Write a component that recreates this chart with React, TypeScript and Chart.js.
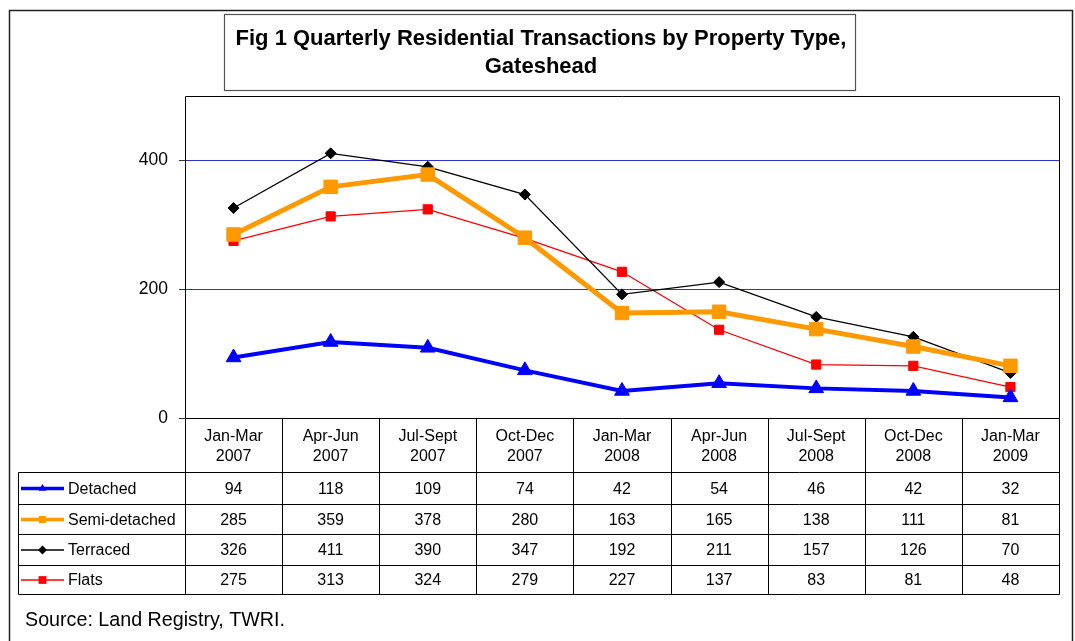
import React, { useEffect, useRef } from "react";
import { Chart, registerables } from "chart.js";

Chart.register(...registerables);

const categories: string[][] = [
  ["Jan-Mar", "2007"],
  ["Apr-Jun", "2007"],
  ["Jul-Sept", "2007"],
  ["Oct-Dec", "2007"],
  ["Jan-Mar", "2008"],
  ["Apr-Jun", "2008"],
  ["Jul-Sept", "2008"],
  ["Oct-Dec", "2008"],
  ["Jan-Mar", "2009"],
];

const detached = [94, 118, 109, 74, 42, 54, 46, 42, 32];
const semiDetached = [285, 359, 378, 280, 163, 165, 138, 111, 81];
const terraced = [326, 411, 390, 347, 192, 211, 157, 126, 70];
const flats = [275, 313, 324, 279, 227, 137, 83, 81, 48];

const yTicks = [0, 200, 400];
const yMax = 500;

const titleLines = [
  "Fig 1 Quarterly Residential Transactions by Property Type,",
  "Gateshead",
];
const sourceText = "Source: Land Registry, TWRI.";

const FONT = "'Liberation Sans', Arial, sans-serif";

type SeriesDef = {
  label: string;
  data: number[];
  color: string;
  lineWidth: number;
  pointStyle: string;
  radius: number;
  keyRadius: number;
};

const series: SeriesDef[] = [
  { label: "Detached", data: detached, color: "#0000FF", lineWidth: 4, pointStyle: "triangle", radius: 8.5, keyRadius: 4.5 },
  { label: "Semi-detached", data: semiDetached, color: "#FF9900", lineWidth: 5, pointStyle: "rect", radius: 9.5, keyRadius: 5 },
  { label: "Terraced", data: terraced, color: "#000000", lineWidth: 1.3, pointStyle: "rectRot", radius: 5.5, keyRadius: 4.5 },
  { label: "Flats", data: flats, color: "#FF0000", lineWidth: 1.3, pointStyle: "rect", radius: 6.5, keyRadius: 5.5 },
];

function drawMarker(ctx: CanvasRenderingContext2D, style: string, x: number, y: number, r: number) {
  ctx.beginPath();
  if (style === "triangle") {
    ctx.moveTo(x, y - r);
    ctx.lineTo(x + r * 0.866, y + r * 0.5);
    ctx.lineTo(x - r * 0.866, y + r * 0.5);
  } else if (style === "rectRot") {
    ctx.moveTo(x, y - r);
    ctx.lineTo(x + r, y);
    ctx.lineTo(x, y + r);
    ctx.lineTo(x - r, y);
  } else {
    const h = r * Math.SQRT1_2;
    ctx.rect(x - h, y - h, 2 * h, 2 * h);
  }
  ctx.closePath();
  ctx.fill();
}

const framePlugin = {
  id: "framePlugin",
  beforeDraw(chart: any) {
    const ctx = chart.ctx;
    ctx.save();
    ctx.fillStyle = "#ffffff";
    ctx.fillRect(0, 0, chart.width, chart.height);
    ctx.restore();
  },
  afterDraw(chart: any) {
    const ctx = chart.ctx;
    const area = chart.chartArea;
    const xs = chart.scales.x;
    const n = categories.length;
    const colW = (area.right - area.left) / n;
    ctx.save();

    // outer frame
    ctx.strokeStyle = "#222222";
    ctx.lineWidth = 1.5;
    ctx.strokeRect(9.5, 10.5, 1063, 640);

    // title box
    ctx.strokeStyle = "#555555";
    ctx.lineWidth = 1.2;
    ctx.strokeRect(224.5, 14.5, 631, 76);
    ctx.fillStyle = "#000000";
    ctx.font = `bold 22px ${FONT}`;
    ctx.textAlign = "center";
    ctx.textBaseline = "middle";
    const tcx = 224.5 + 631 / 2 + 1;
    ctx.fillText(titleLines[0], tcx, 39);
    ctx.fillText(titleLines[1], tcx, 67);

    // plot border
    ctx.strokeStyle = "#000000";
    ctx.lineWidth = 1;
    const L = Math.round(area.left) + 0.5;
    const R = Math.round(area.right) + 0.5;
    const T = Math.round(area.top) + 0.5;
    const B = Math.round(area.bottom) + 0.5;
    ctx.beginPath();
    ctx.moveTo(L, T);
    ctx.lineTo(R, T);
    ctx.lineTo(R, B);
    ctx.lineTo(L, B);
    ctx.closePath();
    ctx.stroke();

    // table geometry
    const rowYs = [472.5, 504.5, 534.5, 565.5, 594.5];
    const tableLeft = 18.5;

    ctx.beginPath();
    for (let i = 0; i <= n; i++) {
      const x = Math.round(area.left + i * colW) + 0.5;
      ctx.moveTo(x, B);
      ctx.lineTo(x, rowYs[rowYs.length - 1]);
    }
    ctx.moveTo(tableLeft, rowYs[0]);
    ctx.lineTo(tableLeft, rowYs[rowYs.length - 1]);
    for (const y of rowYs) {
      ctx.moveTo(tableLeft, y);
      ctx.lineTo(R, y);
    }
    ctx.stroke();

    // header labels
    ctx.fillStyle = "#000000";
    ctx.font = `16px ${FONT}`;
    ctx.textAlign = "center";
    ctx.textBaseline = "middle";
    categories.forEach((c, i) => {
      const cx = xs.getPixelForValue(i);
      ctx.fillText(c[0], cx, 437);
      ctx.fillText(c[1], cx, 457);
    });

    // rows
    series.forEach((s, r) => {
      const cy = (rowYs[r] + rowYs[r + 1]) / 2 + 1;
      ctx.fillStyle = "#000000";
      ctx.textAlign = "center";
      s.data.forEach((v, i) => {
        ctx.fillText(String(v), xs.getPixelForValue(i), cy);
      });
      // legend key
      ctx.save();
      ctx.strokeStyle = s.color;
      ctx.fillStyle = s.color;
      ctx.lineWidth = s.lineWidth > 2 ? 3.5 : 1.3;
      ctx.beginPath();
      ctx.moveTo(21, cy - 1);
      ctx.lineTo(64, cy - 1);
      ctx.stroke();
      drawMarker(ctx, s.pointStyle, 42.5, cy - 1, s.keyRadius);
      ctx.restore();
      ctx.fillStyle = "#000000";
      ctx.textAlign = "left";
      ctx.fillText(s.label, 68, cy);
    });

    // source
    ctx.textAlign = "left";
    ctx.font = `19.7px ${FONT}`;
    ctx.fillText(sourceText, 25, 621);

    ctx.restore();
  },
};

export default function App() {
  const ref = useRef<HTMLCanvasElement | null>(null);

  useEffect(() => {
    document.body.style.margin = "0";
    const canvas = ref.current;
    if (!canvas) return;
    const chart = new Chart(canvas, {
      type: "line",
      data: {
        labels: categories.map((c) => c.join(" ")),
        datasets: series.map((s) => ({
          label: s.label,
          data: s.data,
          borderColor: s.color,
          backgroundColor: s.color,
          borderWidth: s.lineWidth,
          pointStyle: s.pointStyle as any,
          pointRadius: s.radius,
          pointHoverRadius: s.radius,
          pointBorderWidth: 1,
          pointBackgroundColor: s.color,
          pointBorderColor: s.color,
          tension: 0,
          fill: false,
        })),
      },
      options: {
        responsive: false,
        animation: false,
        events: [],
        layout: { padding: { left: 0, top: 96, right: 16, bottom: 223 } },
        plugins: {
          legend: { display: false },
          title: { display: false },
          tooltip: { enabled: false },
        },
        scales: {
          x: {
            type: "category",
            display: false,
            offset: true,
          },
          y: {
            min: 0,
            max: yMax,
            afterBuildTicks: (scale: any) => {
              scale.ticks = yTicks.map((v) => ({ value: v }));
            },
            afterFit: (scale: any) => {
              scale.width = 185;
            },
            border: { display: false },
            grid: {
              color: (ctx: any) => (ctx.tick && ctx.tick.value === 0 ? "rgba(0,0,0,0)" : "#2F2FD8"),
              lineWidth: 1,
              tickLength: 6,
              tickColor: "#333333",
              drawOnChartArea: true,
            },
            ticks: {
              color: "#000000",
              padding: 11,
              font: { family: FONT, size: 17.5 },
            },
          },
        },
      },
      plugins: [framePlugin],
    });
    return () => chart.destroy();
  }, []);

  return (
    <div style={{ position: "absolute", left: 0, top: 0, width: 1075, height: 641 }}>
      <canvas ref={ref} width={1075} height={641} style={{ display: "block", width: 1075, height: 641 }} />
    </div>
  );
}
